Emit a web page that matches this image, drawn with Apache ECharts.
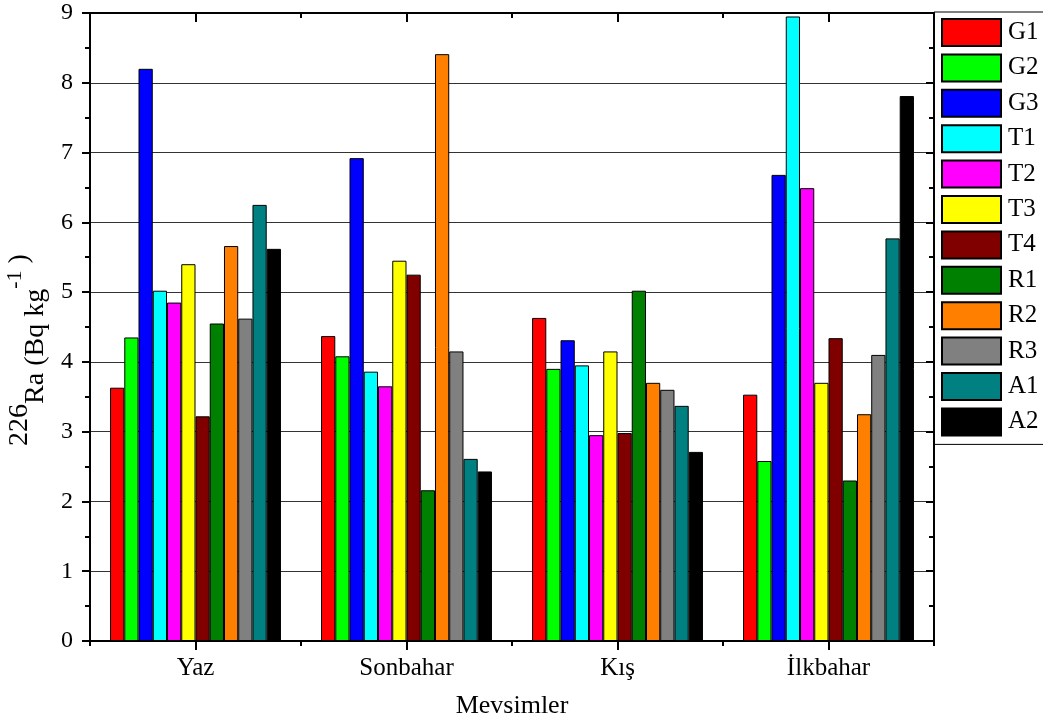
<!DOCTYPE html>
<html>
<head>
<meta charset="utf-8">
<script src="https://cdn.jsdelivr.net/npm/echarts@6/dist/echarts.min.js"></script>
<style>
html, body { margin: 0; padding: 0; background: #fff; }
#graph { width: 1043px; height: 724px; }
</style>
</head>
<body>
<div id="graph"></div>
<script>
var seasons = ['Yaz', 'Sonbahar', 'Kış', 'İlkbahar'];
var names = ['G1', 'G2', 'G3', 'T1', 'T2', 'T3', 'T4', 'R1', 'R2', 'R3', 'A1', 'A2'];
var colors = ['#ff0000', '#00ff00', '#0000ff', '#00ffff', '#ff00ff', '#ffff00',
              '#800000', '#008000', '#ff8000', '#808080', '#008080', '#000000'];
// one row per station, one value per season
var G1 = [3.63, 4.37, 4.63, 3.53];
var G2 = [4.35, 4.08, 3.90, 2.58];
var G3 = [8.20, 6.92, 4.31, 6.68];
var T1 = [5.02, 3.86, 3.95, 8.95];
var T2 = [4.85, 3.65, 2.95, 6.49];
var T3 = [5.40, 5.45, 4.15, 3.70];
var T4 = [3.22, 5.25, 2.98, 4.34];
var R1 = [4.55, 2.16, 5.02, 2.30];
var R2 = [5.66, 8.41, 3.70, 3.25];
var R3 = [4.62, 4.15, 3.60, 4.10];
var A1 = [6.25, 2.61, 3.37, 5.77];
var A2 = [5.62, 2.43, 2.71, 7.81];
var values = [G1, G2, G3, T1, T2, T3, T4, R1, R2, R3, A1, A2];
var yTicks = [0, 1, 2, 3, 4, 5, 6, 7, 8, 9];

var font = 'Liberation Serif';
var dom = document.getElementById('graph');
var myChart = echarts.init(dom);

var series = names.map(function (n, i) {
    return {
        name: n,
        type: 'bar',
        data: values[i],
        barGap: '0%',
        barCategoryGap: '19%',
        itemStyle: { color: colors[i], borderColor: '#000', borderWidth: 1 }
    };
});

function catAxis(pos, centered, len, inside, show) {
    return {
        type: 'category',
        data: seasons,
        position: pos,
        axisLine: { show: show, lineStyle: { color: '#000', width: 2 } },
        axisTick: { show: true, alignWithLabel: centered, inside: inside, length: len,
                    lineStyle: { color: '#000', width: 2 } },
        axisLabel: { show: pos === 'bottom' && centered, color: '#000', fontFamily: font,
                     fontSize: 25, margin: 15 },
        splitLine: { show: false }
    };
}

option = {
    animation: false,
    textStyle: { fontFamily: font },
    grid: { left: 90, right: 109, top: 13, bottom: 83, containLabel: false, outerBoundsMode: 'none' },
    legend: {
        orient: 'vertical',
        left: 934,
        top: 12,
        data: names,
        icon: 'rect',
        itemWidth: 59,
        itemHeight: 27,
        itemGap: 6.4,
        padding: [6, 30, 8, 7],
        borderColor: '#000',
        borderWidth: 1,
        textStyle: { fontFamily: font, fontSize: 25, color: '#000', padding: [0, 0, 0, 2] }
    },
    xAxis: [
        Object.assign(catAxis('bottom', true, 9, false, true), {
            name: 'Mevsimler', nameLocation: 'middle', nameGap: 52,
            nameTextStyle: { fontFamily: font, fontSize: 26, color: '#000' }
        }),
        catAxis('bottom', false, 5, false, false),
        catAxis('top', true, 9, true, true),
        catAxis('top', false, 5, true, false)
    ],
    yAxis: [{
        type: 'value',
        min: yTicks[0],
        max: yTicks[yTicks.length - 1],
        interval: 1,
        position: 'left',
        name: '{a|226}{b|Ra (Bq kg}{c|-1}{a| )}',
        nameLocation: 'middle',
        nameRotate: 90,
        nameGap: 38,
        nameTextStyle: {
            padding: [0, 46, 0, 0],
            rich: {
                a: { fontFamily: font, fontSize: 28, color: '#000', verticalAlign: 'bottom', padding: [0, 0, 16, 0] },
                b: { fontFamily: font, fontSize: 28, color: '#000', verticalAlign: 'bottom', padding: [0, 0, 0, 0] },
                c: { fontFamily: font, fontSize: 22, color: '#000', verticalAlign: 'bottom', padding: [0, 0, 24, 0] }
            }
        },
        axisLine: { show: true, lineStyle: { color: '#000', width: 2 } },
        axisTick: { show: true, inside: false, length: 8, lineStyle: { color: '#000', width: 2 } },
        minorTick: { show: true, splitNumber: 2, length: 5, lineStyle: { color: '#000', width: 2 } },
        axisLabel: { color: '#000', fontFamily: font, fontSize: 24, margin: 17 },
        splitLine: { show: true, lineStyle: { color: '#333', width: 1 } }
    }, {
        type: 'value',
        min: yTicks[0],
        max: yTicks[yTicks.length - 1],
        interval: 1,
        position: 'right',
        axisLine: { show: true, lineStyle: { color: '#000', width: 2 } },
        axisTick: { show: true, inside: true, length: 8, lineStyle: { color: '#000', width: 2 } },
        minorTick: { show: true, splitNumber: 2, length: 5, lineStyle: { color: '#000', width: 2 } },
        axisLabel: { show: false },
        splitLine: { show: false }
    }],
    series: series
};

if (option && typeof option === 'object') {
    myChart.setOption(option, true);
}
</script>
</body>
</html>
